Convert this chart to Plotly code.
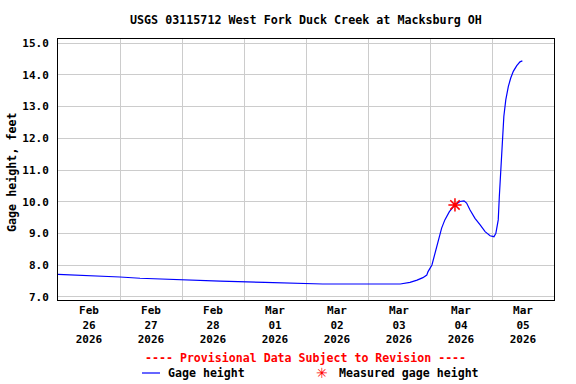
import plotly.graph_objects as go

# Gage height time series (feet)
times = [
    "2026-02-26 00:00", "2026-02-26 16:15", "2026-02-27 00:00", "2026-02-27 07:45",
    "2026-02-27 16:30", "2026-02-28 03:45", "2026-02-28 14:45", "2026-03-01 08:00",
    "2026-03-01 21:45", "2026-03-02 06:30", "2026-03-03 12:30", "2026-03-03 16:15",
    "2026-03-03 19:00", "2026-03-03 21:15", "2026-03-03 22:45", "2026-03-03 23:15",
    "2026-03-04 00:45", "2026-03-04 02:00", "2026-03-04 03:15", "2026-03-04 04:30",
    "2026-03-04 05:45", "2026-03-04 07:30", "2026-03-04 09:40", "2026-03-04 11:35",
    "2026-03-04 13:10", "2026-03-04 14:10", "2026-03-04 15:30", "2026-03-04 17:25",
    "2026-03-04 19:25", "2026-03-04 21:20", "2026-03-04 23:15", "2026-03-05 00:45",
    "2026-03-05 01:30", "2026-03-05 02:25", "2026-03-05 02:50", "2026-03-05 03:05",
    "2026-03-05 03:45", "2026-03-05 04:05", "2026-03-05 04:35", "2026-03-05 05:20",
    "2026-03-05 06:20", "2026-03-05 07:15", "2026-03-05 08:15", "2026-03-05 09:35",
    "2026-03-05 10:50", "2026-03-05 11:45",
]
gage = [
    7.71, 7.67, 7.63, 7.59,
    7.56, 7.53, 7.50, 7.46,
    7.44, 7.41, 7.41, 7.46,
    7.53, 7.61, 7.69, 7.80,
    8.01, 8.43, 8.85, 9.17,
    9.43, 9.69, 9.90, 10.01,
    10.03, 9.96, 9.74, 9.48,
    9.27, 9.06, 8.93, 8.90,
    9.01, 9.43, 10.16, 10.50,
    11.43, 12.16, 12.69, 13.21,
    13.64, 13.90, 14.11, 14.29,
    14.41, 14.44,
]

# Field measurement
meas_times = ["2026-03-04 09:40"]
meas_vals = [9.90]

y_ticks = [7, 8, 9, 10, 11, 12, 13, 14, 15]

W, H = 576, 384
FONT = "DejaVu Sans Mono"

def px(x):
    return x / W

def py(y):
    return 1 - y / H

fig = go.Figure()
fig.add_trace(go.Scatter(
    x=times, y=gage, mode="lines",
    line=dict(color="#0000ff", width=1.2),
    name="Gage height", showlegend=False,
))
fig.add_trace(go.Scatter(
    x=meas_times, y=meas_vals, mode="markers",
    marker=dict(symbol="asterisk-open", size=11,
                line=dict(color="#ff0000", width=1.5), color="#ff0000"),
    name="Measured gage height", showlegend=False,
))

fig.update_layout(
    width=W, height=H,
    margin=dict(l=0, r=0, t=0, b=0, autoexpand=False),
    paper_bgcolor="white", plot_bgcolor="white",
    font=dict(family=FONT, size=11, color="black", weight="bold"),
    xaxis=dict(
        domain=[px(58), px(554)],
        type="date", automargin=False,
        range=["2026-02-26 00:00", "2026-03-06 00:00"],
        tick0="2026-02-26", dtick=86400000,
        ticklabelmode="period",
        tickformat="%b<br>%d<br>%Y",
        showgrid=True, gridcolor="#cccccc", gridwidth=1,
        showline=True, linecolor="black", linewidth=1, mirror=True,
        ticks="", zeroline=False,
        tickfont=dict(family=FONT, size=11, weight="bold"),
    ),
    yaxis=dict(
        domain=[py(300), py(39)],
        range=[6.905, 15.13], automargin=False,
        tickvals=y_ticks, tickformat=".1f",
        showgrid=True, gridcolor="#cccccc", gridwidth=1,
        showline=True, linecolor="black", linewidth=1, mirror=True,
        ticks="", zeroline=False, ticklabelstandoff=6,
        tickfont=dict(family=FONT, size=11, weight="bold"),
    ),
    annotations=[
        dict(text="USGS 03115712 West Fork Duck Creek at Macksburg OH",
             x=px(306), y=py(20), xref="paper", yref="paper",
             showarrow=False, xanchor="center", yanchor="middle",
             font=dict(family=FONT, size=11.7, weight="bold")),
        dict(text="Gage height, feet", textangle=-90,
             x=px(12), y=py(172), xref="paper", yref="paper",
             showarrow=False, xanchor="center", yanchor="middle",
             font=dict(family=FONT, size=11.7, weight="bold")),
        dict(text="---- Provisional Data Subject to Revision ----",
             x=px(305), y=py(358), xref="paper", yref="paper",
             showarrow=False, xanchor="center", yanchor="middle",
             font=dict(family=FONT, size=11.6, weight="bold", color="#ff0000")),
        dict(text="Gage height",
             x=px(166), y=py(373), xref="paper", yref="paper",
             showarrow=False, xanchor="left", yanchor="middle",
             font=dict(family=FONT, size=11.6, weight="bold")),
        dict(text="✳",
             x=px(322), y=py(373), xref="paper", yref="paper",
             showarrow=False, xanchor="center", yanchor="middle",
             font=dict(family="DejaVu Sans", size=14, color="#ff0000")),
        dict(text="Measured gage height",
             x=px(337), y=py(373), xref="paper", yref="paper",
             showarrow=False, xanchor="left", yanchor="middle",
             font=dict(family=FONT, size=11.6, weight="bold")),
    ],
    shapes=[
        dict(type="line", xref="paper", yref="paper",
             x0=px(142), x1=px(160), y0=py(373), y1=py(373),
             line=dict(color="#0000ff", width=1.2)),
    ],
)

fig.write_html(
    "out.html",
    config={"displayModeBar": False},
    post_script="document.body.style.margin='0px';document.body.style.overflow='hidden';",
)
